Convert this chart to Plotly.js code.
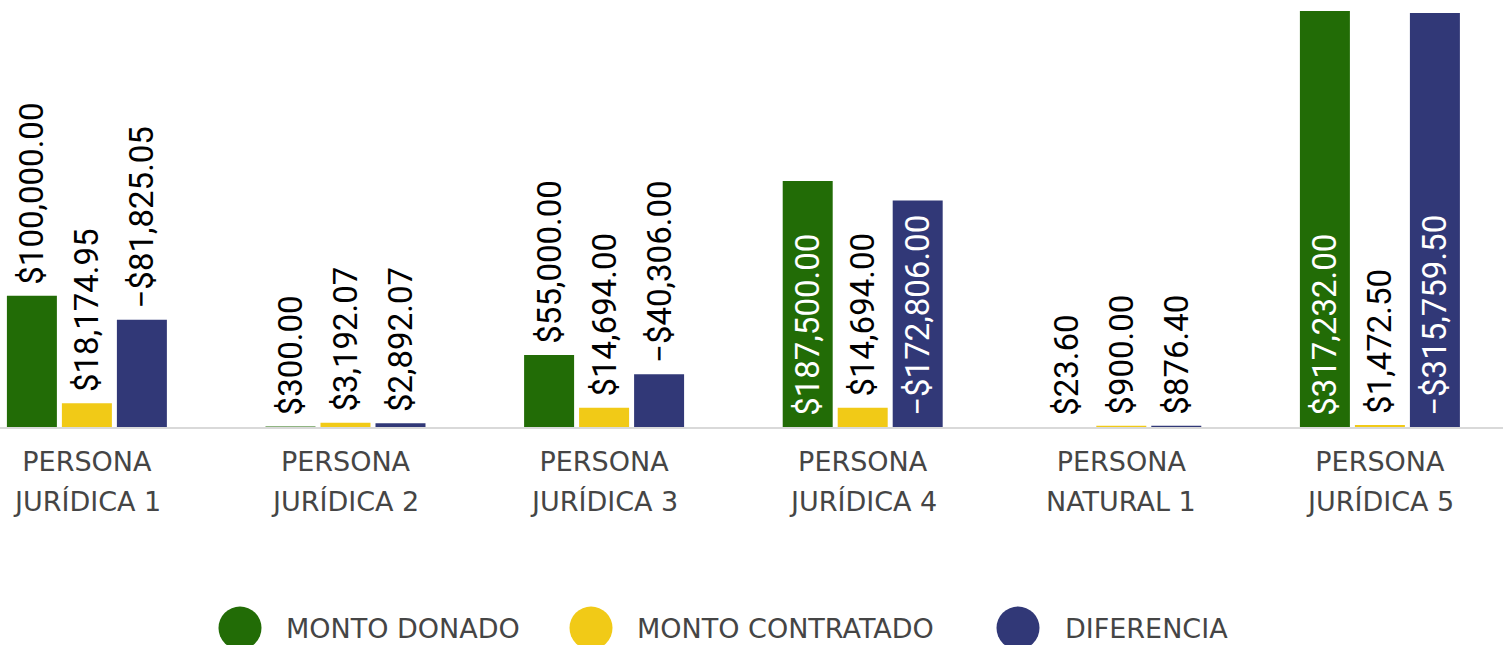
<!DOCTYPE html>
<html>
<head>
<meta charset="utf-8">
<script src="https://cdn.plot.ly/plotly-3.0.1.min.js"></script>
<style>
  html, body { margin: 0; padding: 0; background: #fff; }
  #chart { width: 1503px; height: 645px; }
</style>
</head>
<body>
<div id="chart"></div>
<script>
// tick labels, two lines each
const labelLine1 = ['PERSONA', 'PERSONA', 'PERSONA', 'PERSONA', 'PERSONA', 'PERSONA'];
const labelLine2 = ['JURÍDICA 1', 'JURÍDICA 2', 'JURÍDICA 3', 'JURÍDICA 4', 'NATURAL 1', 'JURÍDICA 5'];
const categories = labelLine1.map((a, i) => a + ' ' + labelLine2[i]);

const montoDonado = [100000.00, 300.00, 55000.00, 187500.00, 23.60, 317232.00];
const montoContratado = [18174.95, 3192.07, 14694.00, 14694.00, 900.00, 1472.50];
const diferencia = [-81825.05, 2892.07, -40306.00, -172806.00, 876.40, -315759.50];

const seriesNames = ['MONTO DONADO', 'MONTO CONTRATADO', 'DIFERENCIA'];
const seriesColors = ['#226c06', '#f1ca17', '#313877'];

// legend layout (circle centre x and text start x in pixels)
const legendCircleX = [240, 591, 1018];
const legendTextX = [287, 638, 1066];

const W = 1503, PLOT_H = 427;
const AXIS_FONT = {family: 'DejaVu Sans', size: 27, color: '#454545'};
const LABEL_SIZE = 33;

function money(v) {
  const s = '$' + Math.abs(v).toLocaleString('en-US', {minimumFractionDigits: 2, maximumFractionDigits: 2});
  return '\u00a0' + (v < 0 ? '\u2212' + s : s);
}

const allSeries = [montoDonado, montoContratado, diferencia];

const traces = allSeries.map((vals, i) => ({
  type: 'bar',
  x: categories,
  y: vals.map(Math.abs),
  name: seriesNames[i],
  marker: {color: seriesColors[i]},
  text: vals.map(money),
  // tall bars carry their label inside, the rest above
  textposition: vals.map(v => Math.abs(v) > 150000 ? 'inside' : 'outside'),
  textangle: -90,
  insidetextanchor: 'start',
  constraintext: 'none',
  cliponaxis: false,
  textfont: {family: 'Roboto', size: LABEL_SIZE},
  insidetextfont: {family: 'Roboto', size: LABEL_SIZE, color: '#ffffff'},
  outsidetextfont: {family: 'Roboto', size: LABEL_SIZE, color: '#000000'},
  hoverinfo: 'none'
}));

const shapes = [], annotations = [];
const legendY = (PLOT_H - 628) / PLOT_H;
seriesNames.forEach((name, i) => {
  shapes.push({
    type: 'circle', xref: 'paper', yref: 'paper',
    xsizemode: 'pixel', ysizemode: 'pixel',
    xanchor: legendCircleX[i] / W, yanchor: legendY,
    x0: -21.5, x1: 21.5, y0: -21.5, y1: 21.5,
    fillcolor: seriesColors[i], line: {width: 0}
  });
  annotations.push({
    xref: 'paper', yref: 'paper',
    x: legendTextX[i] / W, y: legendY,
    xanchor: 'left', yanchor: 'middle',
    xshift: -3,
    text: name, showarrow: false,
    font: AXIS_FONT
  });
});

// second line of each category label
const line2Y = (PLOT_H - 501) / PLOT_H;
labelLine2.forEach((t, i) => {
  annotations.push({
    xref: 'x', yref: 'paper',
    x: categories[i], y: line2Y,
    xanchor: 'center', yanchor: 'middle',
    text: t, showarrow: false,
    font: AXIS_FONT
  });
});

const layout = {
  width: W,
  height: 645,
  margin: {l: 0, r: 0, t: 0, b: 645 - PLOT_H},
  paper_bgcolor: '#ffffff',
  plot_bgcolor: '#ffffff',
  barmode: 'group',
  bargap: 0.362,
  bargroupgap: 0.091,
  showlegend: false,
  xaxis: {
    type: 'category',
    range: [-0.336, 5.476],
    showline: true,
    linecolor: '#d9d9d9',
    linewidth: 2,
    ticks: '',
    tickmode: 'array',
    tickvals: categories,
    ticktext: labelLine1,
    ticklabelstandoff: 10,
    tickfont: AXIS_FONT,
    fixedrange: true
  },
  yaxis: {
    range: [0, 325620],
    visible: false,
    showgrid: false,
    zeroline: false,
    fixedrange: true
  },
  shapes: shapes,
  annotations: annotations
};

Plotly.newPlot('chart', traces, layout, {displayModeBar: false, staticPlot: true});
</script>
</body>
</html>
